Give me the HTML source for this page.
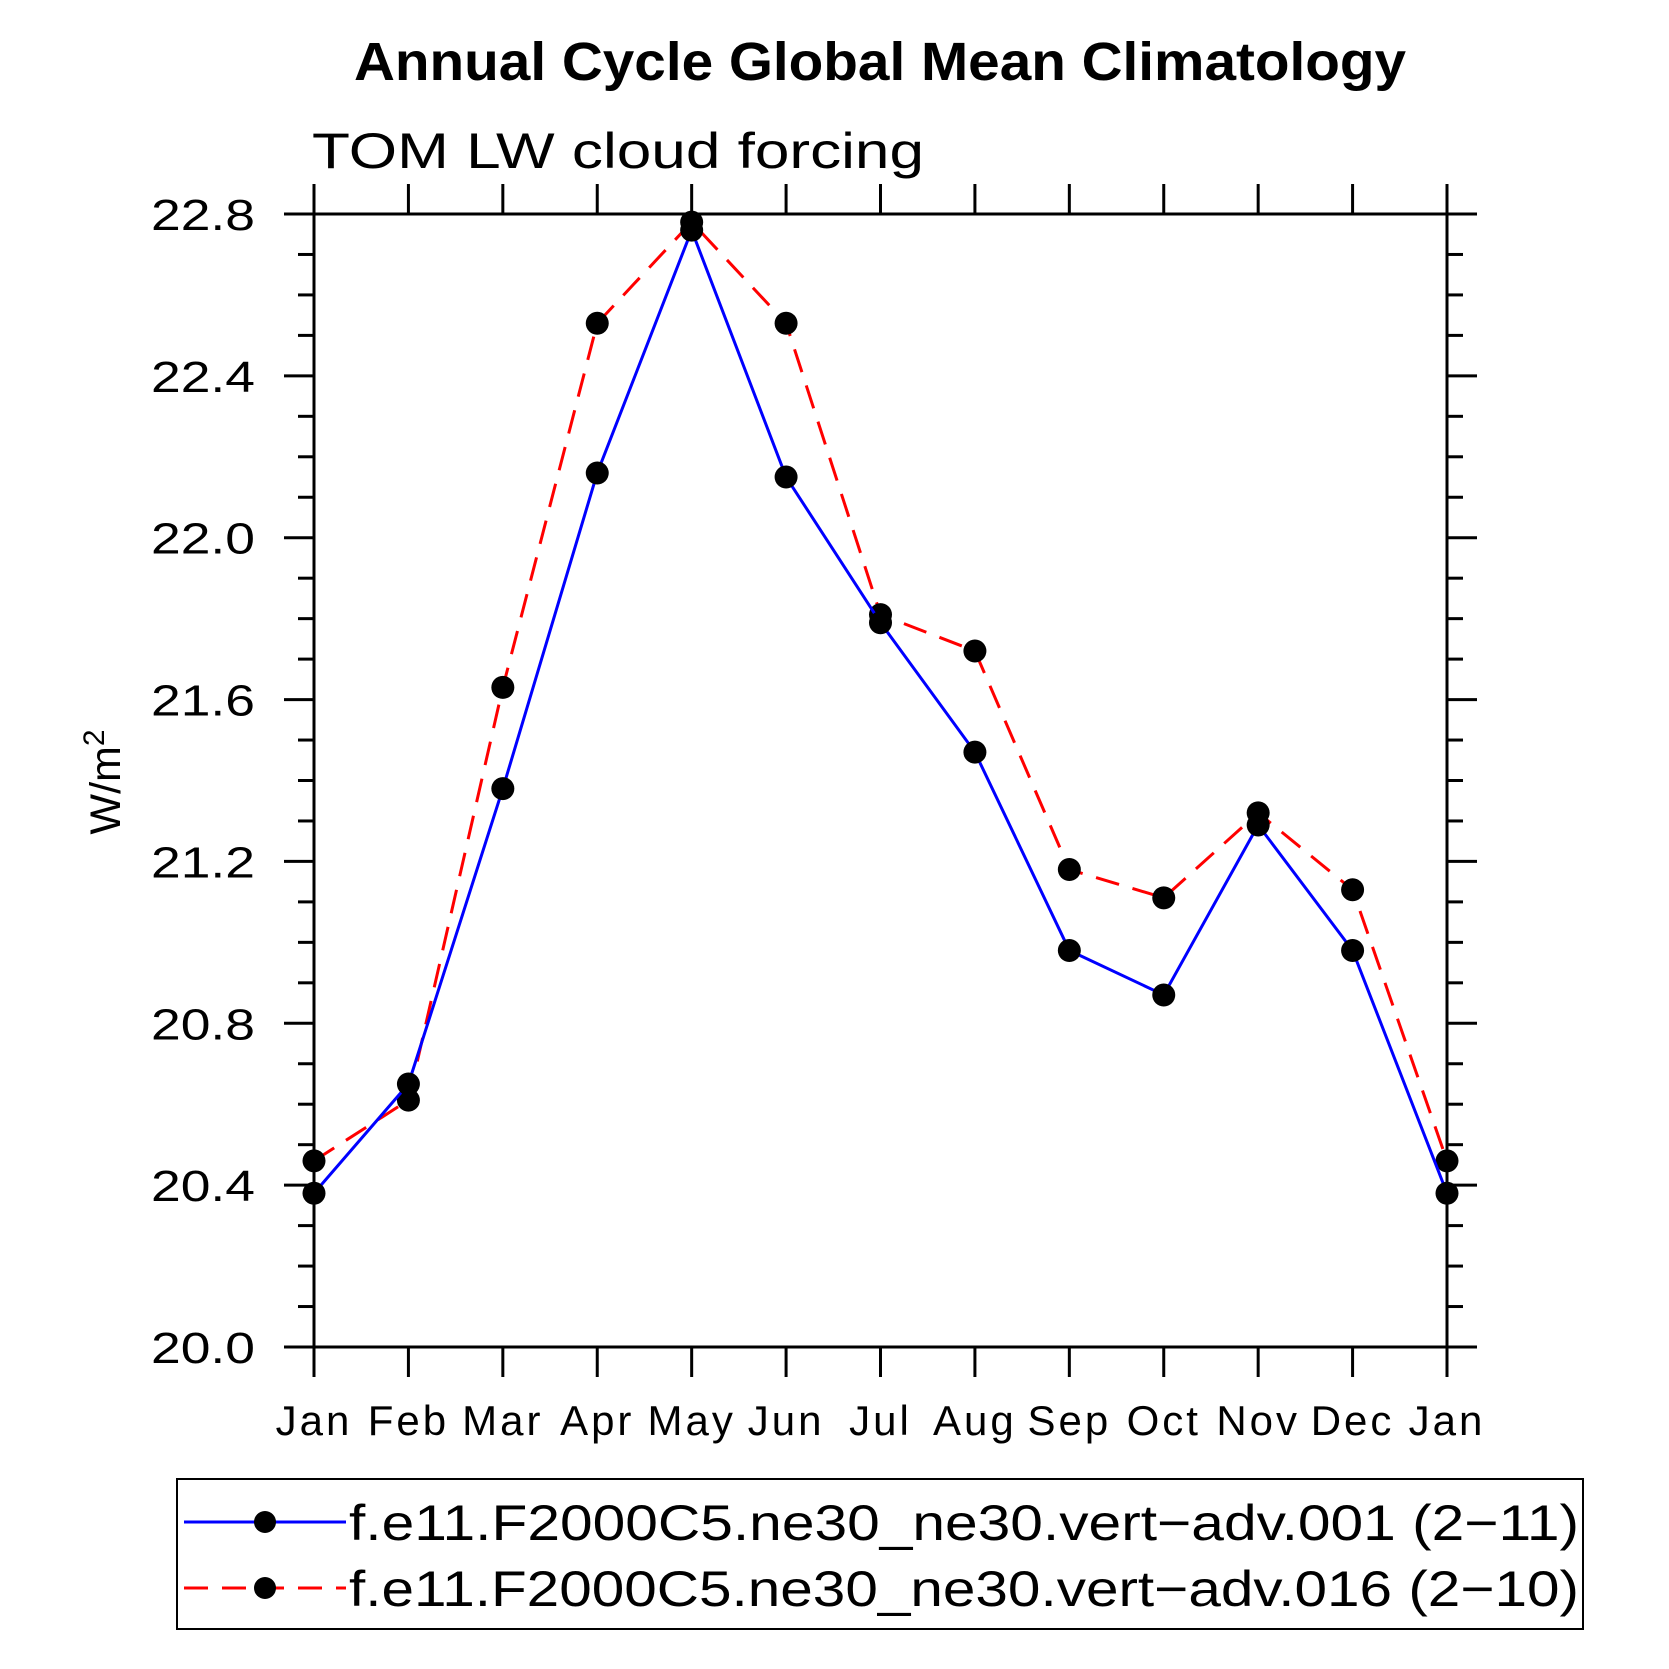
<!DOCTYPE html>
<html><head><meta charset="utf-8"><style>html,body{margin:0;padding:0;background:#fff}svg{display:block}</style></head>
<body>
<svg id="chart" width="1669" height="1669" viewBox="0 0 1669 1669" xmlns="http://www.w3.org/2000/svg" font-family="Liberation Sans, sans-serif">
<text x="880" y="80" text-anchor="middle" font-size="54" font-weight="bold" textLength="1052" lengthAdjust="spacingAndGlyphs">Annual Cycle Global Mean Climatology</text>
<text x="312" y="168" font-size="50" textLength="612" lengthAdjust="spacingAndGlyphs">TOM LW cloud forcing</text>
<text transform="translate(120,782) rotate(-90)" text-anchor="middle" font-size="43">W/m<tspan baseline-shift="super" font-size="30">2</tspan></text>
<g id="axes"></g>
<g id="series"></g>
<g id="legend"></g>
</svg>
<script>
const months = ["Jan","Feb","Mar","Apr","May","Jun","Jul","Aug","Sep","Oct","Nov","Dec","Jan"];
const yTicks = [20.0,20.4,20.8,21.2,21.6,22.0,22.4,22.8];
const yTickLabels = ["20.0","20.4","20.8","21.2","21.6","22.0","22.4","22.8"];
const series001 = [20.38,20.65,21.38,22.16,22.76,22.15,21.79,21.47,20.98,20.87,21.29,20.98,20.38];
const series016 = [20.46,20.61,21.63,22.53,22.78,22.53,21.81,21.72,21.18,21.11,21.32,21.13,20.46];
const legendLabels = ["f.e11.F2000C5.ne30_ne30.vert\u2212adv.001 (2\u221211)","f.e11.F2000C5.ne30_ne30.vert\u2212adv.016 (2\u221210)"];

const NS="http://www.w3.org/2000/svg";
const L=314,R=1447,T=214,B=1347,yMin=20.0,yMax=22.8;
const xs=i=>L+(R-L)*i/(months.length-1);
const ys=v=>B-(v-yMin)/(yMax-yMin)*(B-T);
function mk(tag,attrs,parent){const e=document.createElementNS(NS,tag);for(const k in attrs)e.setAttribute(k,attrs[k]);parent.appendChild(e);return e;}
const axes=document.getElementById('axes');
const frame=mk('rect',{x:L,y:T,width:R-L,height:B-T,fill:'none',stroke:'#000','stroke-width':3},axes);


for(let k=0;k<=28;k++){
  const v=yMin+k*0.1;
  const y=ys(v);
  const len=(k%4===0)?30:16;
  const t1=mk('line',{x1:L-len,x2:L,y1:y,y2:y,stroke:'#000','stroke-width':3},axes);
  
  
  const t2=mk('line',{x1:R,x2:R+len,y1:y,y2:y,stroke:'#000','stroke-width':3},axes);
  
  
}
yTicks.forEach((v,i)=>{
  const t=mk('text',{x:255,y:ys(v)+16,'text-anchor':'end','font-size':44,textLength:104,lengthAdjust:'spacingAndGlyphs'},axes);
  t.textContent=yTickLabels[i];
  
  
});
months.forEach((m,i)=>{
  const x=xs(i);
  const a=mk('line',{x1:x,x2:x,y1:B,y2:B+30,stroke:'#000','stroke-width':3},axes);
  
  
  const b=mk('line',{x1:x,x2:x,y1:T-30,y2:T,stroke:'#000','stroke-width':3},axes);
  
  
  const t=mk('text',{x:x,y:1435,'text-anchor':'middle','font-size':42,'letter-spacing':3},axes);
  t.textContent=m;
  
  
});
const sg=document.getElementById('series');
function drawSeries(vals,color,dash,name){
  const pts=vals.map((v,i)=>xs(i)+','+ys(v)).join(' ');
  const pl=mk('polyline',{points:pts,fill:'none',stroke:color,'stroke-width':3,'stroke-dasharray':dash},sg);
  
  
  vals.forEach((v,i)=>{
    const c=mk('circle',{cx:xs(i),cy:ys(v),r:11.5,fill:'#000'},sg);
    
    
  });
}
drawSeries(series016,'#ff0000','24 14','series-016');
drawSeries(series001,'#0000ff','none','series-001');
const lg=document.getElementById('legend');
const box=mk('rect',{x:177,y:1479,width:1406,height:150,fill:'none',stroke:'#000','stroke-width':2},lg);


[[1522,'#0000ff','none'],[1588,'#ff0000','24 14']].forEach((r,i)=>{
  const ln=mk('line',{x1:184,x2:346,y1:r[0],y2:r[0],stroke:r[1],'stroke-width':3,'stroke-dasharray':r[2]},lg);
  
  
  const c=mk('circle',{cx:265,cy:r[0],r:11,fill:'#000'},lg);
  
  
  const t=mk('text',{x:349,y:r[0]+18,'font-size':50,textLength:1230,lengthAdjust:'spacingAndGlyphs'},lg);
  t.textContent=legendLabels[i];
  
  
});
</script>
</body></html>
